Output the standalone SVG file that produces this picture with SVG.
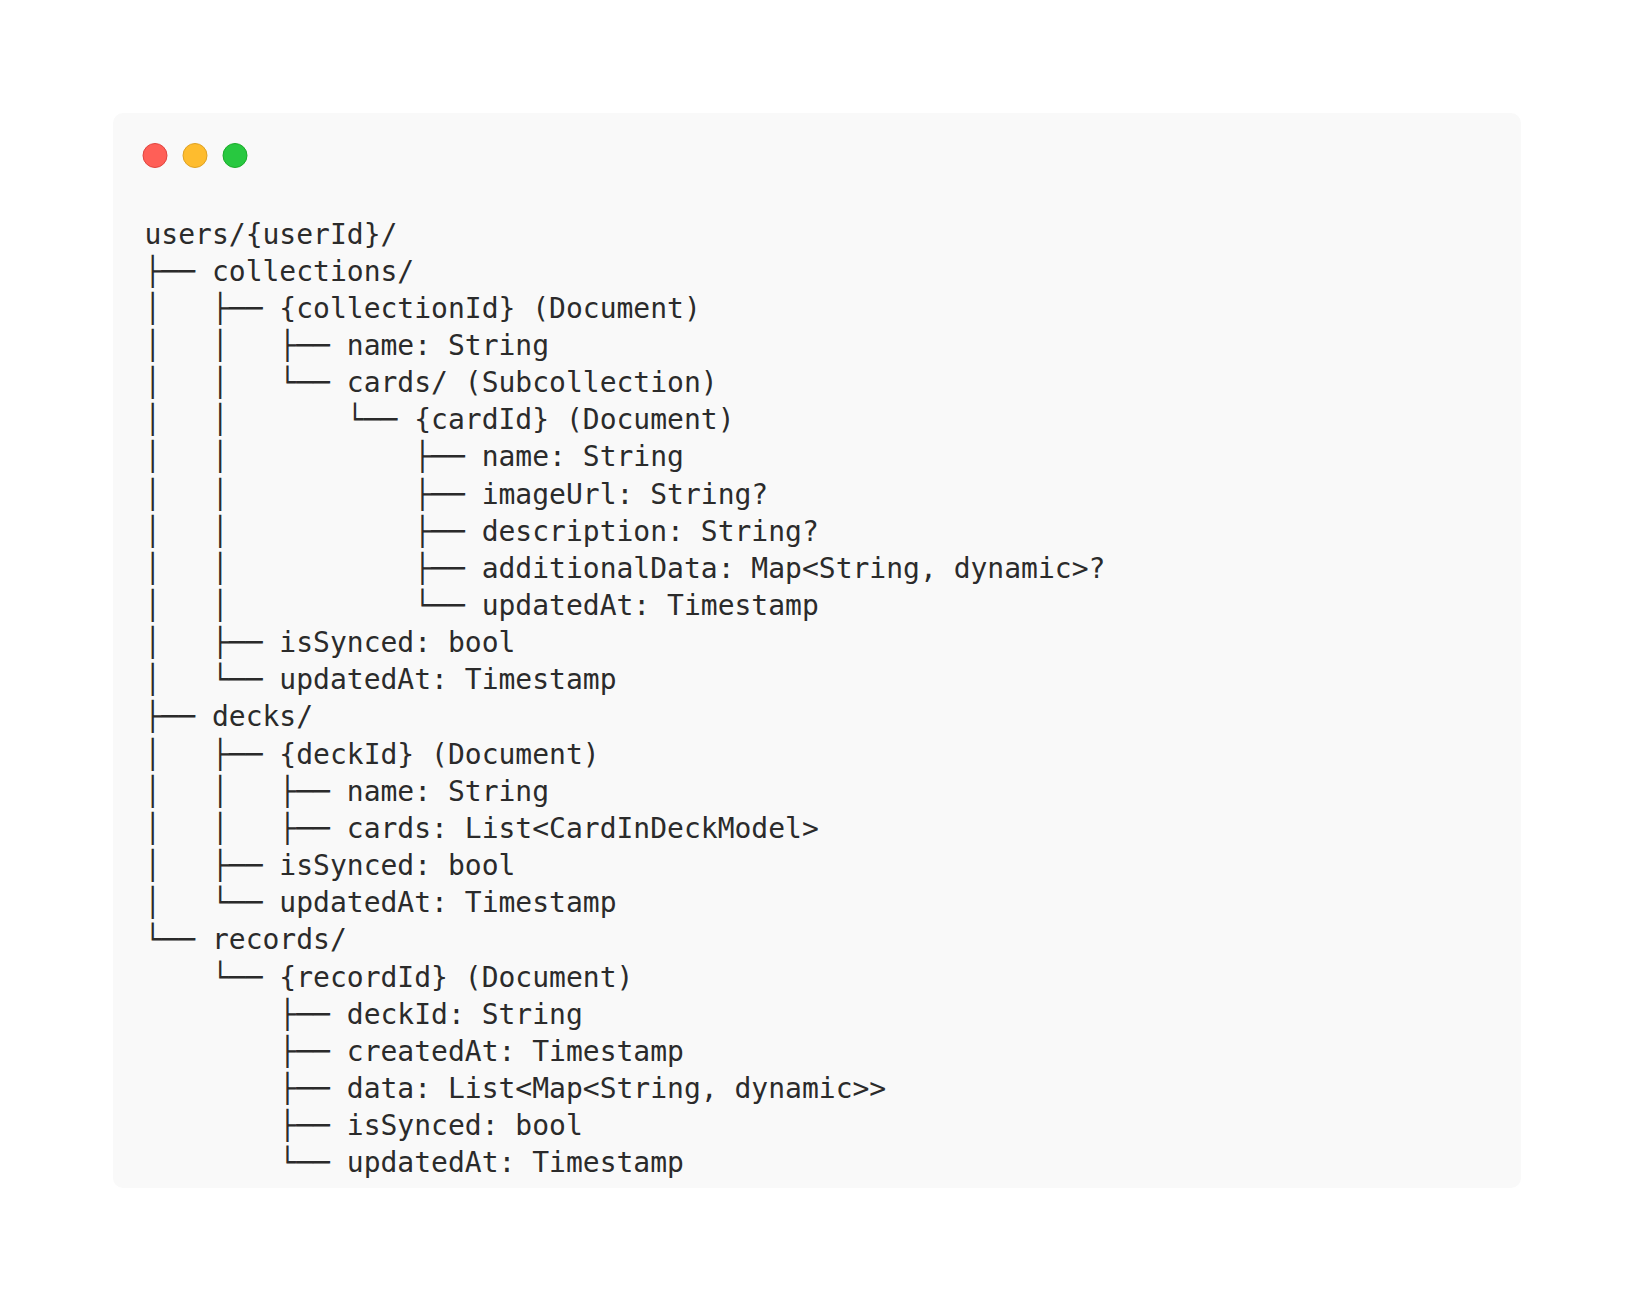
<svg xmlns="http://www.w3.org/2000/svg" width="1634" height="1300" viewBox="0 0 1634 1300">
<style>
.t{font-family:"DejaVu Sans Mono","Liberation Mono",monospace;font-size:28px;fill:#2b2b2b;white-space:pre}
</style>
<rect width="1634" height="1300" fill="#ffffff"/>
<g id="window">
<rect x="113" y="113" width="1408" height="1075" rx="10" fill="#f9f9f9"/>
<circle cx="155" cy="155.5" r="12" fill="#ff5f57" stroke="#e0443e" stroke-width="1"/>
<circle cx="195" cy="155.5" r="12" fill="#febc2e" stroke="#dea123" stroke-width="1"/>
<circle cx="235" cy="155.5" r="12" fill="#28c840" stroke="#1aab29" stroke-width="1"/>
</g>
<g id="tree" xml:space="preserve">
<g id="n0"><text class="t" x="144.5" y="243.5">users/{userId}/</text></g>
<g id="n1"><text class="t" x="144.5" y="280.65">├── collections/</text></g>
<g id="n2"><text class="t" x="144.5" y="317.8">│   ├── {collectionId} (Document)</text></g>
<g id="n3"><text class="t" x="144.5" y="354.95">│   │   ├── name: String</text></g>
<g id="n4"><text class="t" x="144.5" y="392.1">│   │   └── cards/ (Subcollection)</text></g>
<g id="n5"><text class="t" x="144.5" y="429.25">│   │       └── {cardId} (Document)</text></g>
<g id="n6"><text class="t" x="144.5" y="466.4">│   │           ├── name: String</text></g>
<g id="n7"><text class="t" x="144.5" y="503.55">│   │           ├── imageUrl: String?</text></g>
<g id="n8"><text class="t" x="144.5" y="540.7">│   │           ├── description: String?</text></g>
<g id="n9"><text class="t" x="144.5" y="577.85">│   │           ├── additionalData: Map&lt;String, dynamic&gt;?</text></g>
<g id="n10"><text class="t" x="144.5" y="615">│   │           └── updatedAt: Timestamp</text></g>
<g id="n11"><text class="t" x="144.5" y="652.15">│   ├── isSynced: bool</text></g>
<g id="n12"><text class="t" x="144.5" y="689.3">│   └── updatedAt: Timestamp</text></g>
<g id="n13"><text class="t" x="144.5" y="726.45">├── decks/</text></g>
<g id="n14"><text class="t" x="144.5" y="763.6">│   ├── {deckId} (Document)</text></g>
<g id="n15"><text class="t" x="144.5" y="800.75">│   │   ├── name: String</text></g>
<g id="n16"><text class="t" x="144.5" y="837.9">│   │   ├── cards: List&lt;CardInDeckModel&gt;</text></g>
<g id="n17"><text class="t" x="144.5" y="875.05">│   ├── isSynced: bool</text></g>
<g id="n18"><text class="t" x="144.5" y="912.2">│   └── updatedAt: Timestamp</text></g>
<g id="n19"><text class="t" x="144.5" y="949.35">└── records/</text></g>
<g id="n20"><text class="t" x="144.5" y="986.5">    └── {recordId} (Document)</text></g>
<g id="n21"><text class="t" x="144.5" y="1023.65">        ├── deckId: String</text></g>
<g id="n22"><text class="t" x="144.5" y="1060.8">        ├── createdAt: Timestamp</text></g>
<g id="n23"><text class="t" x="144.5" y="1097.95">        ├── data: List&lt;Map&lt;String, dynamic&gt;&gt;</text></g>
<g id="n24"><text class="t" x="144.5" y="1135.1">        ├── isSynced: bool</text></g>
<g id="n25"><text class="t" x="144.5" y="1172.25">        └── updatedAt: Timestamp</text></g>
</g>
<g id="connectors"></g>
</svg>
